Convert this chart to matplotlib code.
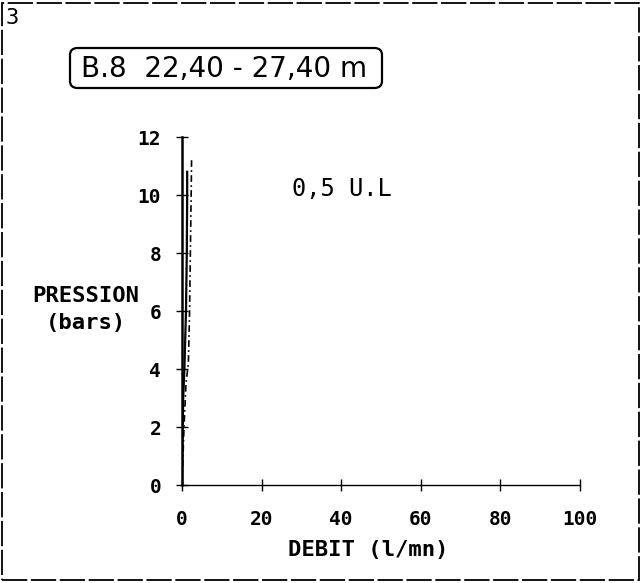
import matplotlib.pyplot as plt
from matplotlib.patches import FancyBboxPatch, Rectangle

# === données (essai Lugeon) ===
x_ticks = [0, 20, 40, 60, 80, 100]
y_ticks = [0, 2, 4, 6, 8, 10, 12]

# montée en pression
debit_montee = [0.0, 0.1, 0.3, 0.6, 1.0, 1.2, 1.3, 1.3]
pression_montee = [0.0, 1.5, 3.0, 4.0, 6.0, 8.0, 10.0, 10.8]

# descente en pression
debit_descente = [2.4, 2.3, 2.1, 1.9, 1.6, 1.0, 0.5, 0.0]
pression_descente = [11.2, 10.0, 8.0, 6.0, 4.2, 3.5, 2.0, 0.0]

titre = "B.8  22,40 - 27,40 m"
note = "0,5 U.L"
mono = "DejaVu Sans Mono"

fig = plt.figure(figsize=(6.42, 5.83), dpi=100)
ax = fig.add_axes([0.2835, 0.168, 0.62, 0.597])

# === courbes ===
ax.plot(debit_montee, pression_montee, color="black", lw=1.6)
ax.plot(debit_descente, pression_descente, color="black", lw=1.2, ls=(0, (4, 2, 1, 2)))

ax.set_xlim(0, 100)
ax.set_ylim(0, 12)
ax.set_xticks(x_ticks)
ax.set_yticks(y_ticks)
ax.set_xticklabels([str(v) for v in x_ticks], family=mono, fontsize=14, fontweight="bold")
ax.set_yticklabels([str(v) for v in y_ticks], family=mono, fontsize=14, fontweight="bold")
ax.tick_params(direction="inout", length=8, width=1)
ax.tick_params(axis="x", pad=14)
ax.tick_params(axis="y", pad=11)
for s in ["top", "right"]:
    ax.spines[s].set_visible(False)
ax.spines["left"].set_linewidth(1.8)
ax.spines["bottom"].set_linewidth(1.0)
ax.patch.set_alpha(0)

# === textes ===
fig.text(368 / 642, 1 - 550 / 583, "DEBIT (l/mn)", family=mono, fontsize=16,
         fontweight="bold", ha="center", va="center")
fig.text(86 / 642, 1 - 296 / 583, "PRESSION", family=mono, fontsize=16,
         fontweight="bold", ha="center", va="center")
fig.text(86 / 642, 1 - 323 / 583, "(bars)", family=mono, fontsize=16,
         fontweight="bold", ha="center", va="center")
fig.text(342 / 642, 1 - 189 / 583, note, family=mono, fontsize=17,
         ha="center", va="center")
fig.text(12 / 642, 1 - 18 / 583, "3", family=mono, fontsize=16,
         ha="center", va="center")

# cartouche du titre
box = FancyBboxPatch((70 / 642, 1 - 88 / 583), 312 / 642, 40 / 583,
                     boxstyle="round,pad=0,rounding_size=0.012",
                     transform=fig.transFigure, fill=False, lw=1.6, ec="black")
fig.add_artist(box)
fig.text(224 / 642, 1 - 69 / 583, titre, fontsize=20, ha="center", va="center",
         family="DejaVu Sans")

# cadre de la page
fig.add_artist(Rectangle((2 / 642, 3 / 583), 637 / 642, 577 / 583,
                         transform=fig.transFigure, fill=False, lw=1.3,
                         ec="black", ls=(0, (14, 2))))

plt.savefig("out.png", dpi=100)
